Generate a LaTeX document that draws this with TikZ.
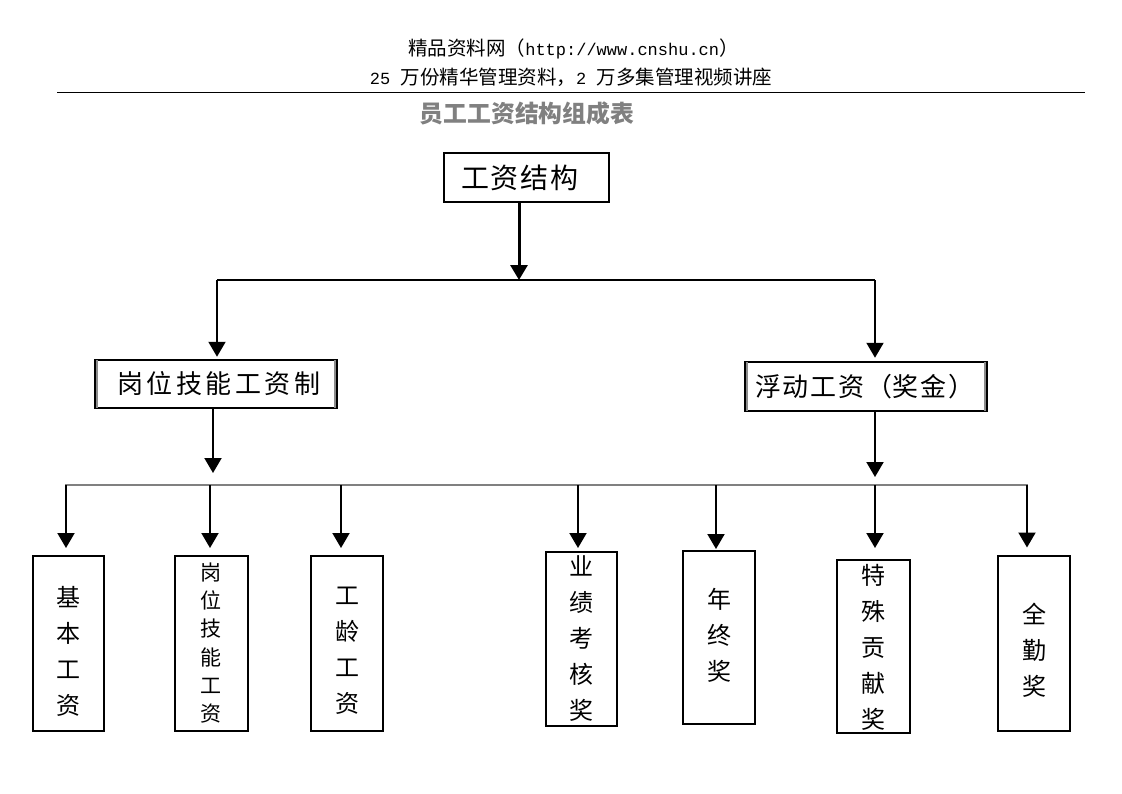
\documentclass[tikz,border=0pt]{standalone}
\usepackage{fontspec}
\setmainfont{Liberation Serif}
\newfontfamily\cjk{Noto Sans CJK SC}
\newfontfamily\lat{Liberation Mono}
\usetikzlibrary{arrows.meta}
\newcommand\ks{\kern2pt }
\newcommand\km{\kern3.5pt }
\begin{document}
\begin{tikzpicture}[x=1pt,y=-1pt,
  box/.style={draw=black,line width=2pt,inner sep=0pt,fill=white},
  lbl/.style={inner sep=0pt,font=\cjk\fontsize{26}{26}\selectfont},
  vt/.style={inner sep=0pt,align=center,font=\cjk\fontsize{24}{36}\selectfont},
  vts/.style={inner sep=0pt,align=center,font=\cjk\fontsize{21}{28.2}\selectfont},
  arr/.style={line width=2pt,-{Triangle[width=17pt,length=15pt]}},
  arrt/.style={line width=3pt,-{Triangle[width=17pt,length=15pt]}},
  bus/.style={line width=2pt},
  gbus/.style={line width=2pt,draw=black!50},
  bevel/.style={line width=2.5pt,draw=black!45}]
\useasboundingbox (0,0) rectangle (1122,793);
% header
\node[inner sep=0pt,font=\cjk\fontsize{19.5}{19.5}\selectfont] (h1) at (573.5,49)
  {精品资料网（{\lat\fontsize{17}{17}\selectfont http://www.cnshu.cn}）};
\node[inner sep=0pt,font=\cjk\fontsize{19.5}{19.5}\selectfont] (h2) at (571,77)
  {{\lat\fontsize{17}{17}\selectfont 25 }万份精华管理资料，{\lat\fontsize{17}{17}\selectfont 2 }万多集管理视频讲座};
\coordinate (r1) at (57,92);
\coordinate (r2) at (1085,92);
\draw[line width=1pt] (r1) -- (r2);
\node[inner sep=0pt,text=black!50,font=\cjk\bfseries\fontsize{23.8}{24}\selectfont] (title) at (527,113) {员工工资结构组成表};
% top box
\node[box,minimum width=165pt,minimum height=49pt] (top) at (526.5,177.5) {};
\node[lbl,font=\cjk\fontsize{28}{28}\selectfont] (ttop) at (520,178) {工\ks 资\ks 结\ks 构};
% middle boxes
\node[box,line width=2.5pt,minimum width=242pt,minimum height=48pt] (L) at (216,384) {};
\draw[bevel] ([xshift=3.2pt,yshift=-1.3pt]L.north west) -- ([xshift=3.2pt,yshift=1.3pt]L.south west);
\draw[bevel] ([xshift=-3.2pt,yshift=-1.3pt]L.north east) -- ([xshift=-3.2pt,yshift=1.3pt]L.south east);
\node[lbl] (tL) at (219,384) {岗\km 位\km 技\km 能\km 工\km 资\km 制};
\node[box,line width=2.5pt,minimum width=242pt,minimum height=49pt] (R) at (866,386.5) {};
\draw[bevel] ([xshift=3.2pt,yshift=-1.3pt]R.north west) -- ([xshift=3.2pt,yshift=1.3pt]R.south west);
\draw[bevel] ([xshift=-3.2pt,yshift=-1.3pt]R.north east) -- ([xshift=-3.2pt,yshift=1.3pt]R.south east);
\node[lbl] (tR) at (865,387) {浮\ks 动\ks 工\ks 资\ks （奖\ks 金\ks ）};
% upper bus
\coordinate (j0) at (519,280);
\coordinate (j1) at (217,280);
\coordinate (j2) at (875,280);
\draw[bus] (j1) -- (j2);
\draw[arrt] (top.south -| j0) -- (j0);
\draw[arr,shorten >=2pt] (j1) -- (j1 |- L.north);
\draw[arr,shorten >=3pt] (j2) -- (j2 |- R.north);
% lower bus
\coordinate (kL) at (213,485);
\coordinate (kR) at (875,485);
\coordinate (k1) at (66,485);
\coordinate (k2) at (210,485);
\coordinate (k3) at (341,485);
\coordinate (k4) at (578,485);
\coordinate (k5) at (716,485);
\coordinate (k6) at (875,485);
\coordinate (k7) at (1027,485);
\draw[gbus] ([xshift=-1pt]k1) -- ([xshift=1pt]k7);
\draw[arr,shorten >=12pt] (L.south -| kL) -- (kL);
\draw[arr,shorten >=8pt] (R.south -| kR) -- (kR);
% bottom boxes
\node[box,minimum width=71pt,minimum height=175pt] (b1) at (68.5,643.5) {};
\node[box,minimum width=73pt,minimum height=175pt] (b2) at (211.5,643.5) {};
\node[box,minimum width=72pt,minimum height=175pt] (b3) at (347,643.5) {};
\node[box,minimum width=71pt,minimum height=174pt] (b4) at (581.5,639) {};
\node[box,minimum width=72pt,minimum height=173pt] (b5) at (719,637.5) {};
\node[box,minimum width=73pt,minimum height=173pt] (b6) at (873.5,646.5) {};
\node[box,minimum width=72pt,minimum height=175pt] (b7) at (1034,643) {};
\draw[arr,shorten >=7pt] (k1) -- (k1 |- b1.north);
\draw[arr,shorten >=7pt] (k2) -- (k2 |- b2.north);
\draw[arr,shorten >=7pt] (k3) -- (k3 |- b3.north);
\draw[arr,shorten >=3pt] (k4) -- (k4 |- b4.north);
\draw[arr,shorten >=1pt] (k5) -- (k5 |- b5.north);
\draw[arr,shorten >=11pt] (k6) -- (k6 |- b6.north);
\draw[arr,shorten >=7pt] (k7) -- (k7 |- b7.north);
% vertical texts
\node[vt] (t1) at (68,651) {基\\本\\工\\资};
\node[vts] (t2) at (211,643) {岗\\位\\技\\能\\工\\资};
\node[vt] (t3) at (347,651) {工\\龄\\工\\资};
\node[vt] (t4) at (581,639) {业\\绩\\考\\核\\奖};
\node[vt] (t5) at (719,635) {年\\终\\奖};
\node[vt] (t6) at (873,647) {特\\殊\\贡\\献\\奖};
\node[vt] (t7) at (1034,650) {全\\勤\\奖};
\end{tikzpicture}
\end{document}
